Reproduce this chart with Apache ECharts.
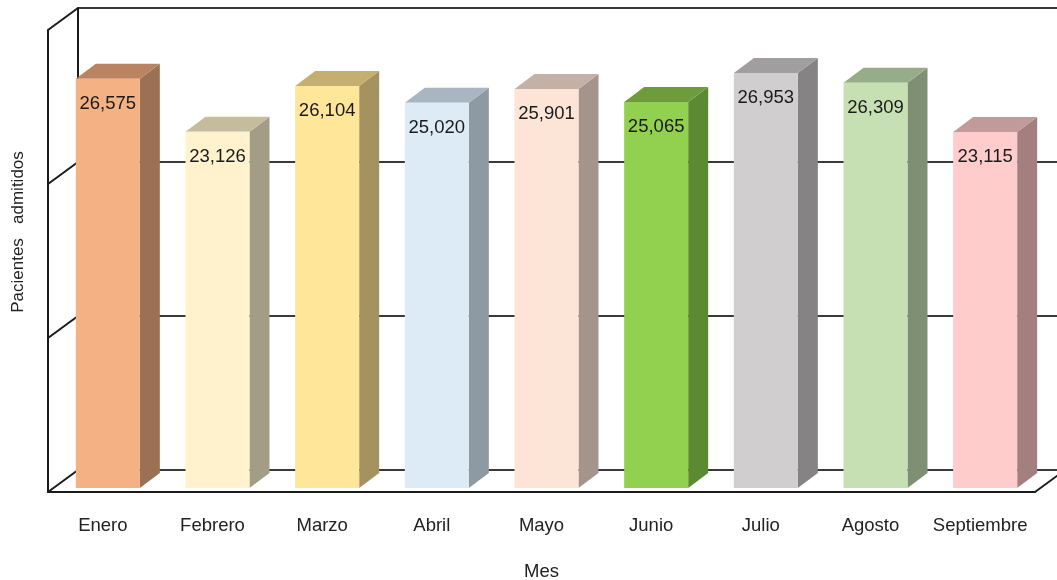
<!DOCTYPE html>
<html>
<head>
<meta charset="utf-8">
<script src="https://cdn.jsdelivr.net/npm/echarts@6/dist/echarts.min.js"></script>
<style>
  html, body { margin: 0; padding: 0; background: #fff; }
  #main { width: 1057px; height: 580px; }
</style>
</head>
<body>
<div id="main"></div>
<script>
var meses = ['Enero', 'Febrero', 'Marzo', 'Abril', 'Mayo', 'Junio', 'Julio', 'Agosto', 'Septiembre'];
var pacientes = [26575, 23126, 26104, 25020, 25901, 25065, 26953, 26309, 23115];
var niveles = [0, 10000, 20000, 30000];

// colores de cada barra: cara frontal, lateral, superior
var frente = ['#F4B183', '#FFF2CC', '#FFE699', '#DDEBF7', '#FCE4D6', '#92D050', '#D0CECE', '#C6E0B4', '#FFCCCC'];
var lado   = ['#9C7054', '#A39D86', '#A5925E', '#8D99A3', '#A5948B', '#5C8A32', '#858383', '#7F8F73', '#A47F80'];
var arriba = ['#BA8463', '#C5BC9E', '#C4AF70', '#A9B5C0', '#C3B1A7', '#6E9B3C', '#A09E9E', '#97AD89', '#C39A9A'];

var FONT = "'Liberation Sans', Arial, sans-serif";
var DX = 30, DY = 22;       // profundidad de la caja
var BW = 64, BDX = 20, BDY = 15, OFX = 5, OFY = 4; // barra

var chart = echarts.init(document.getElementById('main'));

var option = {
    animation: false,
    grid: [
        { left: 48, top: 30, width: 987, height: 462, outerBoundsMode: 'none', containLabel: false },
        { left: 78, top: 8, width: 987, height: 462, outerBoundsMode: 'none', containLabel: false }
    ],
    xAxis: [{
        type: 'category', gridIndex: 0, data: meses,
        axisLine: { lineStyle: { color: '#1a1a1a', width: 2 } },
        axisTick: { show: false },
        axisLabel: { color: '#222', fontSize: 18.5, fontFamily: FONT, margin: 24, interval: 0 },
        name: 'Mes', nameLocation: 'middle', nameGap: 70,
        nameTextStyle: { color: '#222', fontSize: 18.5, fontFamily: FONT }
    }, {
        type: 'category', gridIndex: 1, data: meses, show: false
    }],
    yAxis: [{
        type: 'value', gridIndex: 0, min: 0, max: 30000, interval: 10000,
        axisLine: { show: true, lineStyle: { color: '#1a1a1a', width: 2 } },
        axisTick: { show: false }, axisLabel: { show: false }, splitLine: { show: false },
        name: 'Pacientes   admitidos', nameLocation: 'middle', nameGap: 21,
        nameTextStyle: { color: '#222', fontSize: 17, fontFamily: FONT, padding: [0, 0, 0, 58] }
    }, {
        type: 'value', gridIndex: 1, min: 0, max: 30000, interval: 10000,
        axisLine: { show: true, lineStyle: { color: '#1a1a1a', width: 2 } },
        axisTick: { show: false }, axisLabel: { show: false },
        splitLine: { show: true, lineStyle: { color: '#3a3a3a', width: 2 } }
    }],
    series: [{
        // pared lateral izquierda y borde derecho del piso
        type: 'custom', xAxisIndex: 0, yAxisIndex: 0,
        data: niveles.map(function (v) { return [0, v]; }),
        silent: true,
        renderItem: function (params, api) {
            var cs = params.coordSys;
            var v = api.value(1);
            var y = api.coord([0, v])[1];
            var kids = [{
                type: 'line',
                shape: { x1: cs.x, y1: y, x2: cs.x + DX, y2: y - DY },
                style: { stroke: '#1a1a1a', lineWidth: 2 }
            }];
            if (v === 0) {
                kids.push({
                    type: 'line',
                    shape: { x1: cs.x + cs.width, y1: y, x2: cs.x + cs.width + DX, y2: y - DY },
                    style: { stroke: '#1a1a1a', lineWidth: 2 }
                });
            }
            return { type: 'group', children: kids };
        }
    }, {
        // barras 3D
        type: 'custom', xAxisIndex: 0, yAxisIndex: 0,
        data: pacientes.map(function (v, i) { return [i, v]; }),
        renderItem: function (params, api) {
            var i = api.value(0), v = api.value(1);
            var top = api.coord([i, v]);
            var base = api.coord([i, 0]);
            var x0 = top[0] - BW / 2 + OFX, x1 = x0 + BW;
            var yt = top[1] - OFY, yb = base[1] - OFY;
            return {
                type: 'group',
                children: [{
                    type: 'polygon',
                    shape: { points: [[x1, yt], [x1 + BDX, yt - BDY], [x1 + BDX, yb - BDY], [x1, yb]] },
                    style: { fill: lado[i] }
                }, {
                    type: 'polygon',
                    shape: { points: [[x0, yt], [x0 + BDX, yt - BDY], [x1 + BDX, yt - BDY], [x1, yt]] },
                    style: { fill: arriba[i] }
                }, {
                    type: 'rect',
                    shape: { x: x0, y: yt, width: BW, height: yb - yt },
                    style: { fill: frente[i] }
                }, {
                    type: 'text',
                    x: (x0 + x1) / 2, y: yt + 25,
                    style: {
                        text: v.toLocaleString('en-US'),
                        align: 'center', verticalAlign: 'middle',
                        fill: '#1a1a1a', font: '18.5px ' + FONT
                    }
                }]
            };
        }
    }]
};

chart.setOption(option);
</script>
</body>
</html>
